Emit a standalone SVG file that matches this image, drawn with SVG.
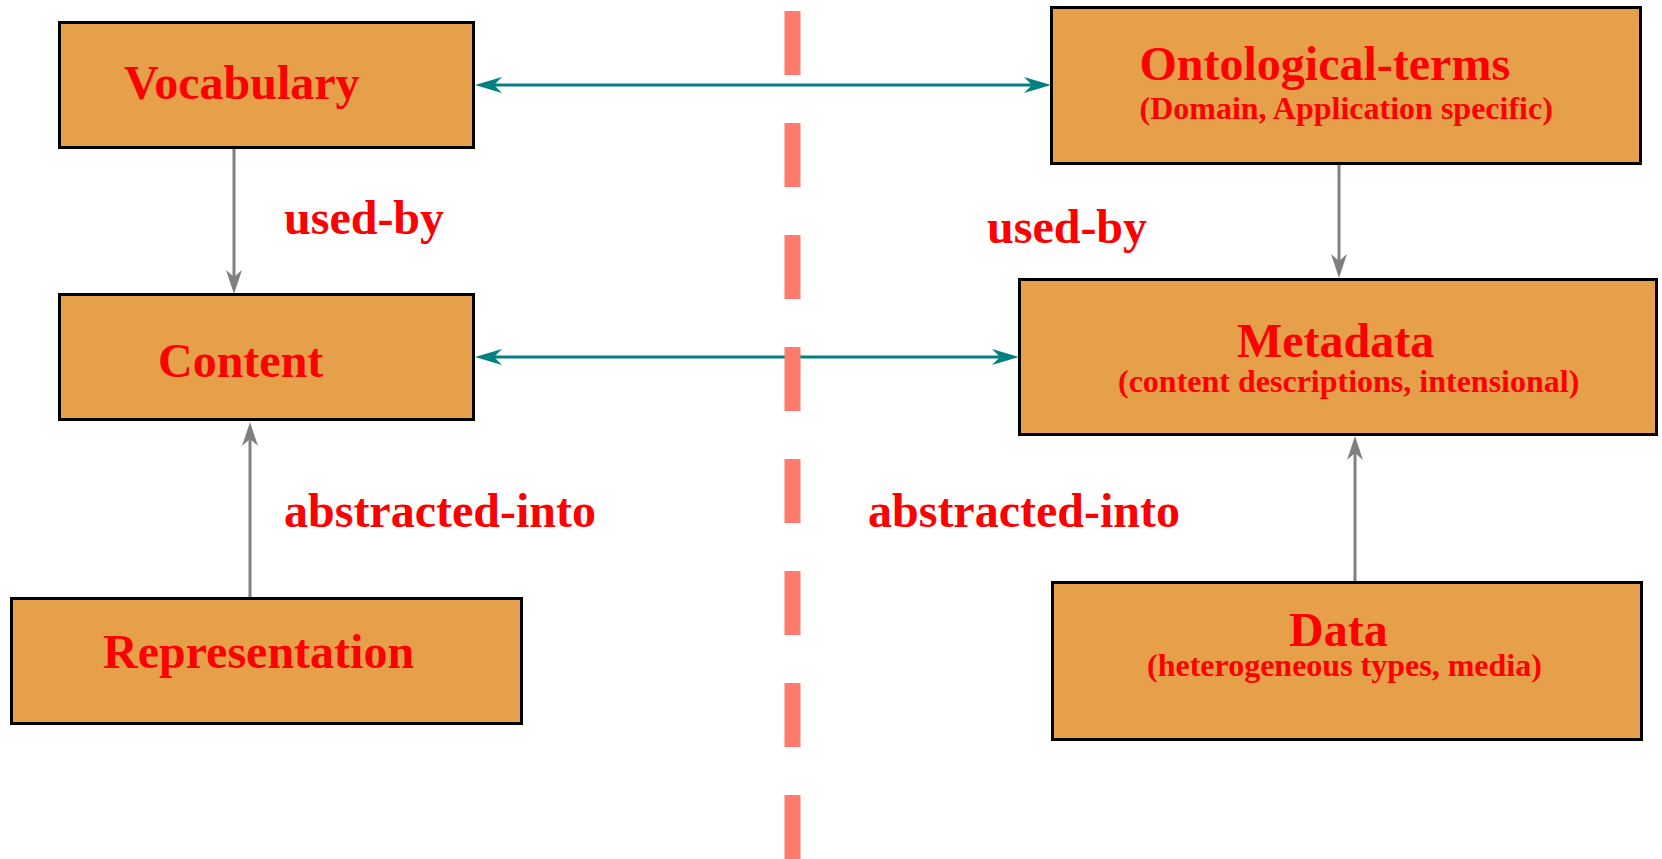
<svg xmlns="http://www.w3.org/2000/svg" width="1662" height="859" viewBox="0 0 1662 859">
<style>
.box{fill:#E5A049;stroke:#000;stroke-width:3}
.t{font-family:"Liberation Serif","Times New Roman",serif;font-weight:bold;fill:#FF0000}
.big{font-size:48px}
.sub{font-size:32px}
.teal{stroke:#008080;stroke-width:3;fill:none}
.gray{stroke:#808080;stroke-width:3;fill:none}
</style>
<defs>
<marker id="ah-teal" viewBox="0 0 27 16" refX="9" refY="8" markerWidth="27" markerHeight="16" markerUnits="userSpaceOnUse" orient="auto-start-reverse">
<path d="M0,0 L27,8 L0,16 L8,8 Z" fill="#008080"/>
</marker>
<marker id="ah-gray" viewBox="0 0 24 16" refX="9" refY="8" markerWidth="24" markerHeight="16" markerUnits="userSpaceOnUse" orient="auto-start-reverse">
<path d="M0,0 L24,8 L0,16 L7,8 Z" fill="#808080"/>
</marker>
</defs>
<rect width="1662" height="859" fill="#FFFFFF"/>

<g id="connectors">
<line class="teal" x1="493" y1="85" x2="1033" y2="85" marker-start="url(#ah-teal)" marker-end="url(#ah-teal)"/>
<line class="teal" x1="493" y1="357" x2="1001" y2="357" marker-start="url(#ah-teal)" marker-end="url(#ah-teal)"/>
<line class="gray" x1="234" y1="149" x2="234" y2="279" marker-end="url(#ah-gray)"/>
<line class="gray" x1="250" y1="597" x2="250" y2="437" marker-end="url(#ah-gray)"/>
<line class="gray" x1="1339" y1="164" x2="1339" y2="263" marker-end="url(#ah-gray)"/>
<line class="gray" x1="1355" y1="581" x2="1355" y2="451" marker-end="url(#ah-gray)"/>
</g>

<g id="divider">
<line x1="792.5" y1="11" x2="792.5" y2="870" stroke="#FF7B6C" stroke-width="16" stroke-dasharray="64 48"/>
</g>

<g id="labels">
<text class="t big" x="284" y="234">used-by</text>
<text class="t big" x="987" y="243">used-by</text>
<text class="t big" x="284" y="527">abstracted-into</text>
<text class="t big" x="868" y="527">abstracted-into</text>
</g>

<g id="vocabulary">
<rect class="box" x="59.5" y="22.5" width="414" height="125"/>
<text class="t big" x="124" y="99">Vocabulary</text>
</g>

<g id="content">
<rect class="box" x="59.5" y="294.5" width="414" height="125"/>
<text class="t big" x="158" y="377">Content</text>
</g>

<g id="representation">
<rect class="box" x="11.5" y="598.5" width="510" height="125"/>
<text class="t big" x="103" y="668">Representation</text>
</g>

<g id="ontological-terms">
<rect class="box" x="1051.5" y="7.5" width="589" height="156"/>
<text class="t big" x="1139.5" y="80">Ontological-terms</text>
<text class="t sub" x="1139.5" y="119">(Domain, Application specific)</text>
</g>

<g id="metadata">
<rect class="box" x="1019.5" y="279.5" width="637" height="155"/>
<text class="t big" x="1237" y="357">Metadata</text>
<text class="t sub" x="1118" y="392">(content descriptions, intensional)</text>
</g>

<g id="data">
<rect class="box" x="1052.5" y="582.5" width="589" height="157"/>
<text class="t big" x="1289" y="646">Data</text>
<text class="t sub" x="1147" y="676">(heterogeneous types, media)</text>
</g>
</svg>
